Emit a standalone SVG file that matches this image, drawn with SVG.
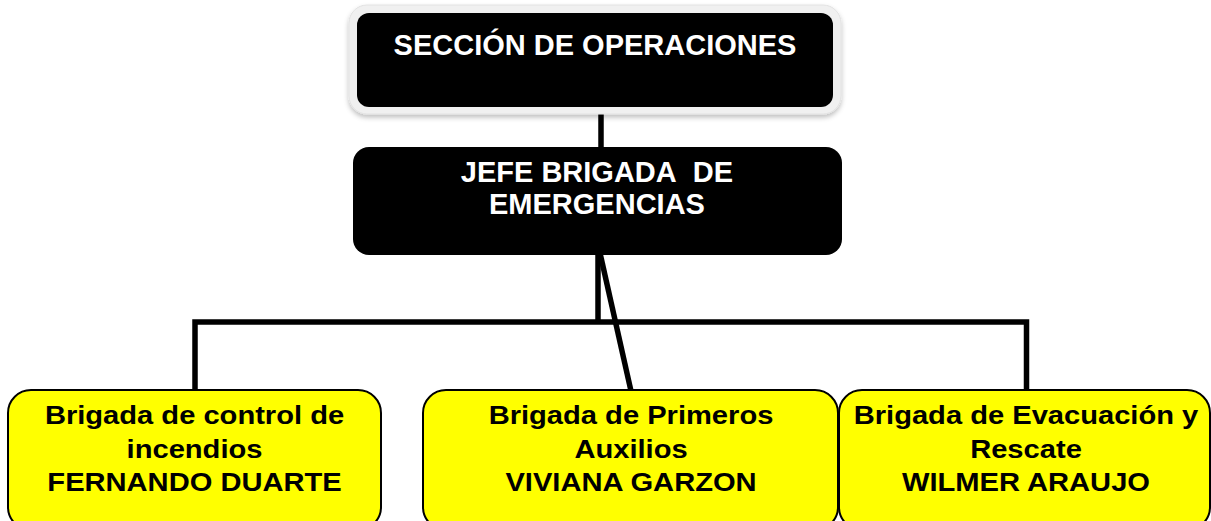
<svg xmlns="http://www.w3.org/2000/svg" width="1211" height="521" viewBox="0 0 1211 521">
<defs>
<filter id="sh" x="-10%" y="-20%" width="120%" height="150%">
<feGaussianBlur in="SourceAlpha" stdDeviation="2.5"/>
<feOffset dx="0" dy="3" result="b"/>
<feFlood flood-color="#000" flood-opacity="0.25"/>
<feComposite in2="b" operator="in"/>
<feMerge><feMergeNode/><feMergeNode in="SourceGraphic"/></feMerge>
</filter>
<style>
.blk{fill:#000000}
.yel{fill:#ffff00;stroke:#000000;stroke-width:2}
.wt{font-family:"Liberation Sans",Arial,sans-serif;font-weight:bold;font-size:29px;fill:#ffffff;text-anchor:middle}
.bt{font-family:"Liberation Sans",Arial,sans-serif;font-weight:bold;font-size:25px;fill:#000000;text-anchor:middle}
.ln{stroke:#000000;stroke-width:5.5;fill:none}
</style>
</defs>
<rect width="1211" height="521" fill="#ffffff"/>
<g id="connectors">
<line class="ln" x1="601" y1="105" x2="601" y2="149"/>
<line class="ln" x1="598" y1="253" x2="598" y2="322"/>
<line class="ln" x1="600" y1="253" x2="631" y2="391"/>
<polyline class="ln" points="195,391 195,322 1026.5,322 1026.5,391"/>
</g>
<g id="seccion">
<rect x="349" y="5" width="492" height="109" rx="18" fill="#f0f0f0" stroke="#e2e2e2" stroke-width="1" filter="url(#sh)"/>
<rect class="blk" x="357" y="13" width="476" height="94" rx="12"/>
<text class="wt" x="595" y="55">SECCIÓN DE OPERACIONES</text>
</g>
<g id="jefe">
<rect class="blk" x="353" y="147" width="489" height="108" rx="16"/>
<text class="wt" x="597" y="182">JEFE BRIGADA&#160; DE</text>
<text class="wt" x="597" y="214">EMERGENCIAS</text>
</g>
<g id="incendios">
<rect class="yel" x="8" y="390" width="373" height="140" rx="23"/>
<g transform="translate(194.5,0) scale(1.165,1)">
<text class="bt" x="0" y="424">Brigada de control de</text>
<text class="bt" x="0" y="458">incendios</text>
<text class="bt" x="0" y="491">FERNANDO DUARTE</text>
</g>
</g>
<g id="auxilios">
<rect class="yel" x="423" y="390" width="415" height="140" rx="23"/>
<g transform="translate(631,0) scale(1.165,1)">
<text class="bt" x="0" y="424">Brigada de Primeros</text>
<text class="bt" x="0" y="458">Auxilios</text>
<text class="bt" x="0" y="491">VIVIANA GARZON</text>
</g>
</g>
<g id="evacuacion">
<rect class="yel" x="839" y="390" width="371" height="140" rx="23"/>
<g transform="translate(1026,0) scale(1.165,1)">
<text class="bt" x="0" y="424">Brigada de Evacuación y</text>
<text class="bt" x="0" y="458">Rescate</text>
<text class="bt" x="0" y="491">WILMER ARAUJO</text>
</g>
</g>
</svg>
